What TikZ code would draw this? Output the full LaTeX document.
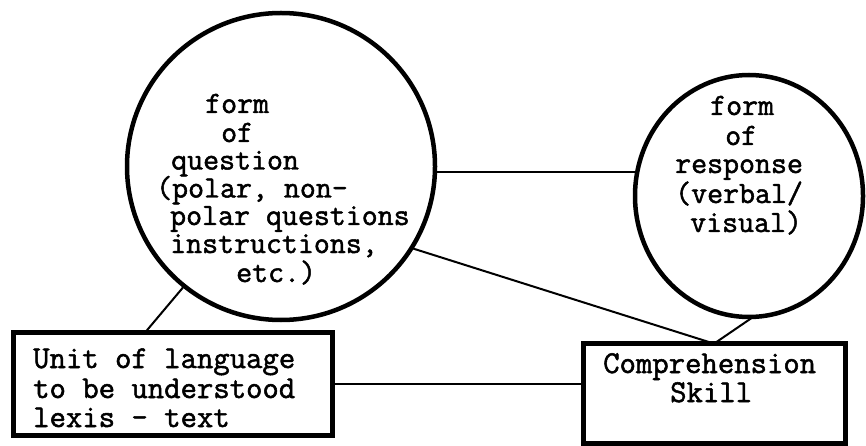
\documentclass[tikz,border=0pt]{standalone}
\usepackage{fontspec}
\usetikzlibrary{shapes.geometric}
\newfontfamily\tw[FakeBold=1.6]{Latin Modern Mono}
\begin{document}
\begin{tikzpicture}[x=1pt,y=-1pt,
  bubble/.style={ellipse, draw, line width=4.5pt, inner sep=0pt, outer sep=0pt},
  card/.style={rectangle, draw, line width=5pt, inner sep=0pt, outer sep=0pt},
  conn/.style={line width=2pt},
  txt/.style={anchor=base west, inner sep=0pt, text depth=0pt, font=\tw\fontsize{31}{32}\selectfont},
  btxt/.style={txt, font=\tw\fontsize{31.8}{32}\selectfont}]
\useasboundingbox[fill=white] (0,0) rectangle (866,446);
% shapes
\node[bubble, minimum width=308pt, minimum height=307pt] (bigc) at (281,166.5) {};
\node[bubble, minimum width=228pt, minimum height=242pt] (smallc) at (749,196) {};
\node[card, minimum width=319pt, minimum height=103pt] (lbox) at (172.5,383.5) {};
\node[card, minimum width=262pt, minimum height=100pt] (rbox) at (714,393) {};
% connectors
\draw[conn] (bigc.-2) -- (bigc.-2 -| smallc.west);
\draw[conn] (bigc.231) -- ([xshift=-27pt]lbox.north);
\draw[conn] (bigc.-32.3) -- ([xshift=-2pt]rbox.north);
\draw[conn] (smallc.-88) -- ([xshift=1pt]rbox.north);
\draw[conn] (lbox.east) -- (lbox.east -| rbox.west);
% texts in big circle
\node[txt] (q1) at (205,113) {form};
\node[txt] (q2) at (221,142) {of};
\node[txt] (q3) at (171,169.5) {question};
\node[txt] (q4) at (156,197.5) {(polar, non-};
\node[txt] (q5) at (170,225) {polar questions};
\node[txt] (q6) at (170,253) {instructions,};
\node[txt] (q7) at (236,282) {etc.)};
% texts in small circle
\node[txt] (r1) at (710,115) {form};
\node[txt] (r2) at (725,145) {of};
\node[txt] (r3) at (675,173) {response};
\node[txt] (r4) at (675,203) {(verbal/};
\node[txt] (r5) at (690,232) {visual)};
% texts in left box
\node[btxt] (l1) at (33,368) {Unit of language};
\node[btxt] (l2) at (33,398) {to be understood};
\node[btxt] (l3) at (33,427) {lexis - text};
% texts in right box
\node[btxt] (c1) at (603,373) {Comprehension};
\node[btxt] (c2) at (670,402) {Skill};
\end{tikzpicture}
\end{document}
